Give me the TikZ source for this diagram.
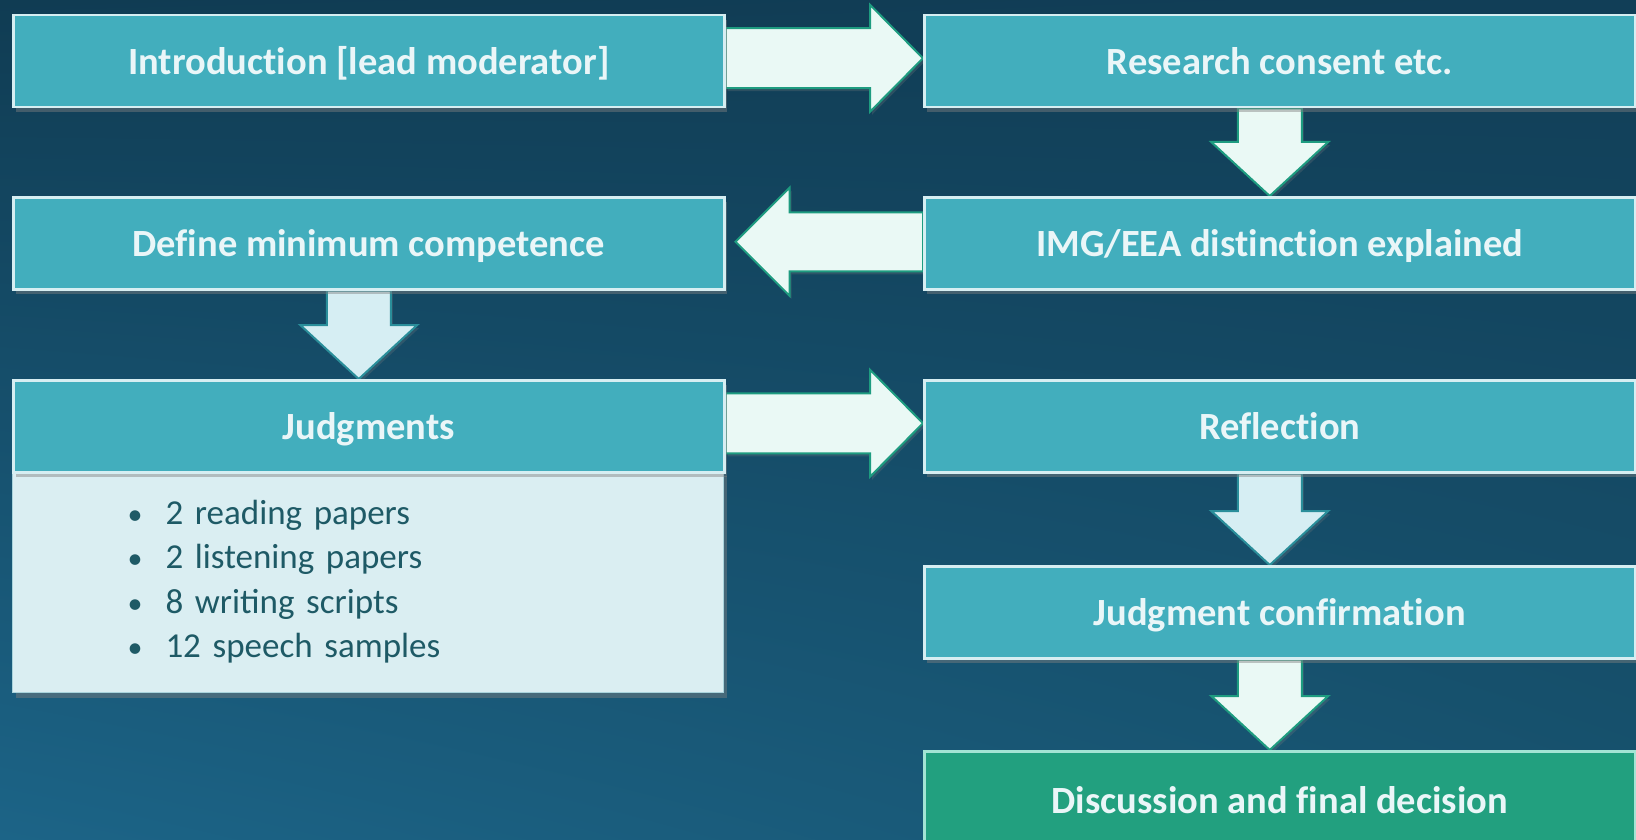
\documentclass[tikz,border=0pt]{standalone}
\usepackage{fontspec}
\setmainfont[Ligatures=NoCommon]{Carlito}
\newfontfamily\notefont[WordSpace=0.7]{Carlito}
\usetikzlibrary{calc,shadows,shadings}

\definecolor{bgul}{HTML}{103C53}
\definecolor{bgur}{HTML}{113E57}
\definecolor{bgll}{HTML}{1C6487}
\definecolor{bglr}{HTML}{17536F}
\definecolor{boxfill}{HTML}{42AEBD}
\definecolor{boxline}{HTML}{D6EEF2}
\definecolor{boxtext}{HTML}{EAF6F8}
\definecolor{mint}{HTML}{EAF9F5}
\definecolor{mintline}{HTML}{1E9C80}
\definecolor{pale}{HTML}{D6EEF3}
\definecolor{paleline}{HTML}{2A8E9A}
\definecolor{notefill}{HTML}{DAEEF2}
\definecolor{noteline}{HTML}{A9D3DC}
\definecolor{notetext}{HTML}{1E5A66}
\definecolor{greenfill}{HTML}{22A07F}
\definecolor{greenline}{HTML}{A3E4D4}

\pgfdeclarelayer{bg}
\pgfdeclarelayer{arrows}
\pgfsetlayers{bg,arrows,main}

% block arrows between named nodes
\newcommand\rblock[2]{%
\draw[fatarrow] let \p1=(#1.east), \p2=(#2.west) in
(\x1,\y1+33) -- (\x2-53,\y1+33) -- (\x2-53,\y1+56.5) -- (\x2,\y1+3)
-- (\x2-53,\y1-50.5) -- (\x2-53,\y1-27) -- (\x1,\y1-27) -- cycle;}
\newcommand\lblock[2]{%
\draw[fatarrow] let \p1=(#1.west), \p2=($(#2.east)+(10,0)$) in
(\x1,\y1+31) -- (\x2+54,\y1+31) -- (\x2+54,\y1+55.5) -- (\x2,\y1+1.5)
-- (\x2+54,\y1-52.5) -- (\x2+54,\y1-28) -- (\x1,\y1-28) -- cycle;}
\newcommand\dblock[3][]{%
\draw[fatarrow,#1] let \p1=($(#2.south)+(-10,0)$), \p2=(#3.north) in
(\x1-32,\y1) -- (\x1-32,\y2+54) -- (\x1-58.5,\y2+54) -- (\x1,\y2)
-- (\x1+58.5,\y2+54) -- (\x1+32,\y2+54) -- (\x1+32,\y1) -- cycle;}
\newcommand\pt{\makebox[38pt][l]{\fontsize{30}{30}\selectfont\textbullet}}

\begin{document}
\begin{tikzpicture}[x=1pt,y=-1pt,
stage/.style={%
anchor=north west,
draw=boxline,
line width=2.5pt,
fill=boxfill,
text=boxtext,
minimum width=711pt,
minimum height=92pt,
text height=30pt,
text depth=4pt,
font=\fontsize{38.5}{42}\selectfont\bfseries,
drop shadow={opacity=0.45,shadow xshift=3pt,shadow yshift=-5pt}
},
final/.style={%
stage,
draw=greenline,
fill=greenfill
},
notes/.style={%
anchor=north west,
draw=noteline,
line width=1pt,
fill=notefill,
text=notetext,
minimum width=711pt,
minimum height=222pt,
text width=481pt,
inner xsep=115pt,
align=left,
font=\notefont\fontsize{35}{44.5}\selectfont,
drop shadow={opacity=0.45,shadow xshift=3pt,shadow yshift=-5pt}
},
fatarrow/.style={%
draw=mintline,
fill=mint,
line width=2pt,
line join=miter,
drop shadow={opacity=0.25,shadow xshift=2pt,shadow yshift=-3pt}
},
palearrow/.style={%
draw=paleline,
fill=pale
},
]
\useasboundingbox (0,0) rectangle (1636,840);
\clip (0,0) rectangle (1636,840);
\begin{pgfonlayer}{bg}
\shade[upper left=bgul,upper right=bgur,lower left=bgll,lower right=bglr]
(0,0) rectangle (1636,840);
\end{pgfonlayer}
%% left column
\node[stage] (intro) at (12,14) {Introduction [lead moderator]};
\node[stage] (define) at (12,196) {Define minimum competence};
\node[notes] (samples) at (12,470) {%
\pt 2 reading papers\\
\pt 2 listening papers\\
\pt 8 writing scripts\\
\pt 12 speech samples};
\node[stage] (judge) at (12,379) {Judgments};
%% right column
\node[stage] (consent) at (923,14) {Research consent etc.};
\node[stage] (distinct) at (923,196) {IMG/EEA distinction explained};
\node[stage] (reflect) at (923,379) {Reflection};
\node[stage] (confirm) at (923,565) {Judgment confirmation};
\node[final,minimum height=98pt] (decide) at (923,750) {Discussion and final decision};
%% arrows
\begin{pgfonlayer}{arrows}
\rblock{intro}{consent}
\dblock{consent}{distinct}
\lblock{distinct}{define}
\dblock[palearrow]{define}{judge}
\rblock{judge}{reflect}
\dblock[palearrow]{reflect}{confirm}
\dblock{confirm}{decide}
\end{pgfonlayer}
\end{tikzpicture}
\end{document}
